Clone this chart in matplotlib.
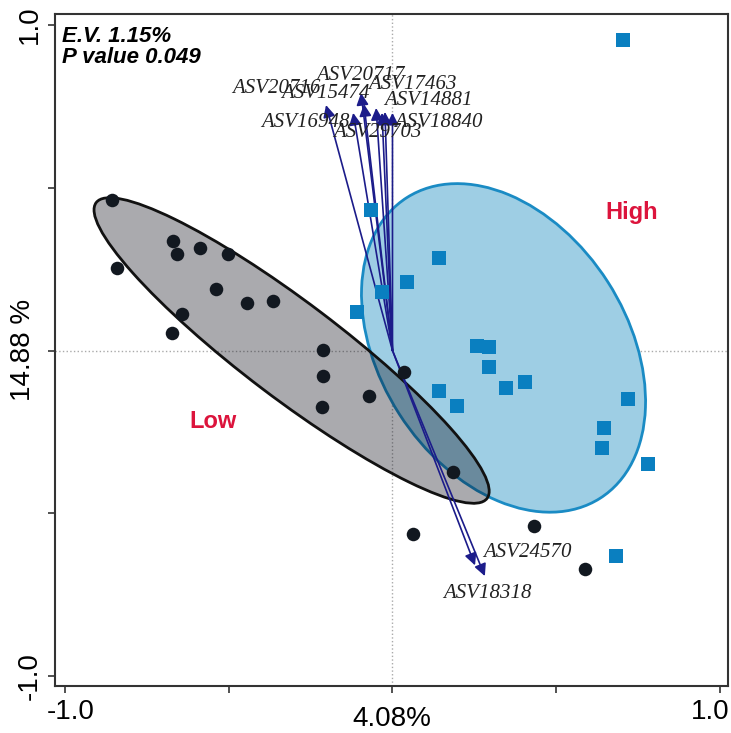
import numpy as np
import matplotlib
matplotlib.use('Agg')
import matplotlib.pyplot as plt
import matplotlib.transforms as mtransforms
from matplotlib.patches import Ellipse

plt.rcParams['font.family'] = ['Liberation Sans', 'DejaVu Sans']

# sample scores
low_x = [-0.855, -0.841, -0.669, -0.657, -0.588, -0.502, -0.643, -0.674, -0.538, -0.444,
         -0.365, -0.211, -0.211, -0.214, -0.072, 0.035, 0.185, 0.063, 0.432, 0.589]
low_y = [0.463, 0.254, 0.335, 0.298, 0.316, 0.298, 0.112, 0.054, 0.189, 0.146,
         0.152, 0.002, -0.078, -0.173, -0.139, -0.067, -0.372, -0.564, -0.540, -0.670]

high_x = [0.704, -0.066, 0.142, 0.044, -0.032, -0.108, 0.258, 0.295, 0.295, 0.348,
          0.406, 0.142, 0.197, 0.719, 0.646, 0.640, 0.779, 0.683]
high_y = [0.954, 0.432, 0.284, 0.212, 0.180, 0.118, 0.014, 0.011, -0.051, -0.115,
          -0.097, -0.124, -0.171, -0.148, -0.238, -0.298, -0.348, -0.631]

# species vectors
asv_names = ['ASV20716', 'ASV20717', 'ASV15474', 'ASV17463', 'ASV14881',
             'ASV16948', 'ASV29703', 'ASV18840', 'ASV24570', 'ASV18318']
asv_x = [-0.203, -0.096, -0.087, -0.050, 0.000, -0.120, -0.032, -0.023, 0.252, 0.282]
asv_y = [0.754, 0.791, 0.757, 0.745, 0.730, 0.730, 0.730, 0.733, -0.660, -0.693]
lab_x = [-0.353, -0.099, -0.206, 0.060, 0.111, -0.267, -0.047, 0.140, 0.411, 0.289]
lab_y = [0.806, 0.846, 0.791, 0.816, 0.769, 0.699, 0.671, 0.699, -0.622, -0.748]

fig = plt.figure(figsize=(7.31, 7.33), dpi=100)
ax = fig.add_axes([0.0752, 0.0641, 0.9207, 0.9168])

ax.axhline(0, color='#aaaaaa', ls=':', lw=1, zorder=1)
ax.axvline(0, color='#aaaaaa', ls=':', lw=1, zorder=1)

# confidence ellipses
ax.add_patch(Ellipse((0.339, 0.008), 1.096, 0.755, angle=-57.5,
                     facecolor='#9ecee4', edgecolor='#1a8bc4', lw=2, zorder=2))
ax.add_patch(Ellipse((-0.308, 0.0), 1.50, 0.295, angle=-37.3,
                     facecolor=(0.03, 0.03, 0.08, 0.34), edgecolor='#111111', lw=2, zorder=3))

for i in range(len(asv_names)):
    ax.annotate('', xy=(asv_x[i], asv_y[i]), xytext=(0, 0),
                arrowprops=dict(arrowstyle='-|>', color='#1c1c8a', lw=1.2,
                                mutation_scale=18, shrinkA=0, shrinkB=0), zorder=4)
    ax.text(lab_x[i], lab_y[i], asv_names[i], family=['Liberation Serif'], style='italic',
            fontsize=15, ha='center', va='center', color='#222222', zorder=6)

ax.scatter(low_x, low_y, s=95, marker='o', color='#121820', zorder=5, linewidths=0)
ax.scatter(high_x, high_y, s=90, marker='s', color='#0a7fc0', zorder=5, linewidths=0)

ax.text(0.731, 0.425, 'High', color='#dc143c', fontsize=17, fontweight='bold',
        ha='center', va='center', zorder=6)
ax.text(-0.548, -0.217, 'Low', color='#dc143c', fontsize=17, fontweight='bold',
        ha='center', va='center', zorder=6)

ax.text(-1.01, 0.997, 'E.V. 1.15%\nP value 0.049', fontsize=16, fontweight='bold',
        style='italic', ha='left', va='top', linespacing=1.0, zorder=6)

ax.set_xlim(-1.0305, 1.0244)
ax.set_ylim(-1.0307, 1.0338)
ticks = [-1.0, -0.5, 0.0, 0.5, 1.0]
ax.set_xticks(ticks)
ax.set_xticklabels(['-1.0', '', '', '', '1.0'], fontsize=20)
ax.set_yticks(ticks)
ax.set_yticklabels(['-1.0', '', '', '', '1.0'], fontsize=20, rotation=90, va='center')
ax.tick_params(direction='out', length=5, width=1.2, color='#333333', pad=4)

# keep the right-hand "1.0" inside the figure
last = ax.get_xticklabels()[-1]
last.set_ha('right')
last.set_transform(last.get_transform() +
                   mtransforms.ScaledTranslation(0.09, 0, fig.dpi_scale_trans))
first = ax.get_xticklabels()[0]
first.set_transform(first.get_transform() +
                    mtransforms.ScaledTranslation(0.06, 0, fig.dpi_scale_trans))

ax.set_xlabel('4.08%', fontsize=20)
ax.xaxis.set_label_coords(0.5, -0.03)
ax.set_ylabel('14.88 %', fontsize=20)
ax.yaxis.set_label_coords(-0.028, 0.5)

for sp in ax.spines.values():
    sp.set_linewidth(1.5)
    sp.set_color('#333333')

fig.savefig('out.png', dpi=100)
